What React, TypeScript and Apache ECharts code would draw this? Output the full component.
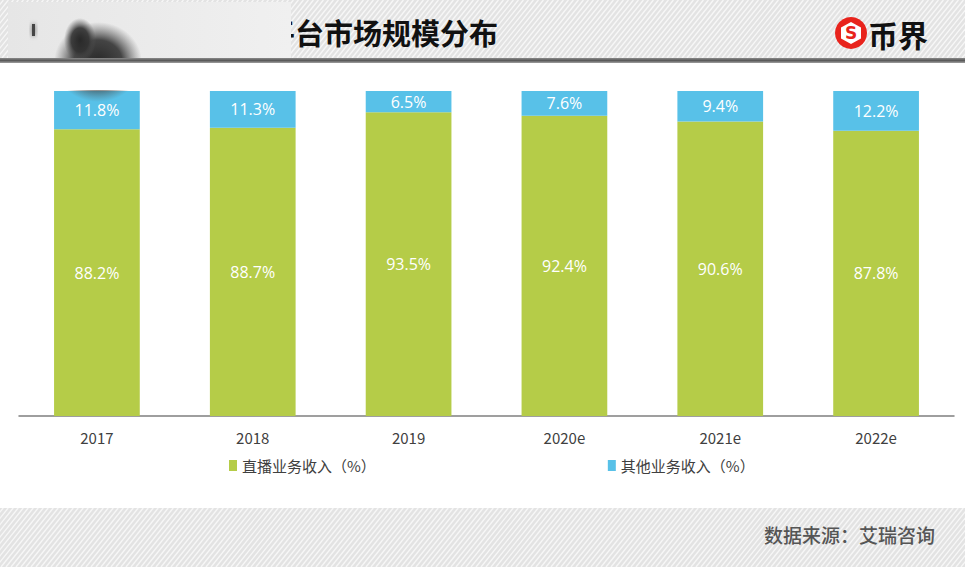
import React, { useEffect, useRef } from "react";
import * as echarts from "echarts";

const categories = ["2017", "2018", "2019", "2020e", "2021e", "2022e"];
const liveRevenue = [88.2, 88.7, 93.5, 92.4, 90.6, 87.8];
const otherRevenue = [11.8, 11.3, 6.5, 7.6, 9.4, 12.2];
const seriesNames = ["直播业务收入（%）", "其他业务收入（%）"];
const titleText = "平台市场规模分布";
const sourceText = "数据来源：艾瑞咨询";
const brandText = "币界";

const W = 965;
const H = 567;

function stripes(y0: number, y1: number): any[] {
  const h = y1 - y0;
  const out: any[] = [];
  for (let x = -h; x < W + 6; x += 5) {
    out.push({
      type: "line",
      silent: true,
      shape: { x1: x, y1: y1, x2: x + h * 0.8, y2: y0 },
      style: { stroke: "rgba(255,255,255,0.7)", lineWidth: 1.4 },
      z: 1,
    });
  }
  return out;
}

export default function App() {
  const ref = useRef<HTMLDivElement>(null);
  useEffect(() => {
    if (!ref.current) return;
    const chart = echarts.init(ref.current, null, { renderer: "svg" });
    const blobGrad = new echarts.graphic.RadialGradient(0.5, 0.5, 0.5, [
      { offset: 0, color: "rgba(40,40,40,1)" },
      { offset: 0.55, color: "rgba(50,50,50,0.9)" },
      { offset: 1, color: "rgba(90,90,90,0)" },
    ]);
    const graphics: any[] = [
      { type: "rect", silent: true, shape: { x: 0, y: 0, width: W, height: 58 }, style: { fill: "#e3e3e3" }, z: 0 },
      ...stripes(0, 58),
      { type: "rect", silent: true, shape: { x: 0, y: 508, width: W, height: 59 }, style: { fill: "#e3e3e3" }, z: 0 },
      ...stripes(508, 567),
      {
        type: "text",
        silent: true,
        left: 266,
        top: 17,
        style: { text: titleText, fontSize: 29, fontWeight: "bold", fill: "#111", fontFamily: "Noto Sans CJK SC" },
        z: 4,
      },
      {
        type: "rect",
        silent: true,
        shape: { x: 8, y: 2, width: 283, height: 56 },
        style: {
          fill: new echarts.graphic.LinearGradient(0, 0, 1, 0, [
            { offset: 0, color: "#e6e6e6" },
            { offset: 1, color: "#f0f0f0" },
          ]),
        },
        z: 5,
      },
      {
        type: "ellipse",
        silent: true,
        shape: { cx: 98, cy: 62, rx: 44, ry: 40 },
        style: { fill: blobGrad },
        z: 6,
      },
      {
        type: "ellipse",
        silent: true,
        shape: { cx: 80, cy: 40, rx: 16, ry: 22 },
        style: { fill: blobGrad },
        z: 6,
      },
      {
        type: "rect",
        silent: true,
        shape: { x: 32, y: 24, width: 3, height: 12 },
        style: { fill: "#444", shadowBlur: 4, shadowColor: "#666" },
        z: 6,
      },
      {
        type: "rect",
        silent: true,
        shape: { x: 0, y: 63, width: W, height: 27 },
        style: { fill: "#ffffff" },
        z: 8,
      },
      {
        type: "rect",
        silent: true,
        shape: { x: 0, y: 58, width: W, height: 5 },
        style: {
          fill: new echarts.graphic.LinearGradient(0, 0, 0, 1, [
            { offset: 0, color: "#8a8a8a" },
            { offset: 0.5, color: "#5a5a5a" },
            { offset: 1, color: "#a0a0a0" },
          ]),
        },
        z: 9,
      },
      { type: "circle", silent: true, shape: { cx: 851, cy: 33, r: 16 }, style: { fill: "#e8231c" }, z: 4 },
      {
        type: "polygon",
        silent: true,
        shape: { points: [[851, 22], [861, 27.5], [861, 38.5], [851, 44], [841, 38.5], [841, 27.5]] },
        style: { fill: "#fff" },
        z: 5,
      },
      {
        type: "text",
        silent: true,
        x: 851,
        y: 33,
        style: { text: "S", fontSize: 17, fontWeight: "bold", fill: "#e8231c", align: "center", verticalAlign: "middle", fontFamily: "DejaVu Sans" },
        z: 6,
      },
      {
        type: "text",
        silent: true,
        left: 868,
        top: 19,
        style: { text: brandText, fontSize: 30, fontWeight: "bold", fill: "#111", fontFamily: "Noto Sans CJK SC" },
        z: 4,
      },
      {
        type: "text",
        silent: true,
        right: 30,
        top: 525,
        style: { text: sourceText, fontSize: 19, fontWeight: 500, fill: "#555", fontFamily: "Noto Sans CJK SC" },
        z: 4,
      },
    ];

    const labelStyle = {
      show: true,
      position: "inside",
      color: "#fff",
      fontSize: 16,
      fontFamily: "Open Sans",
      formatter: (p: any) => p.value.toFixed(1) + "%",
    };

    chart.setOption({
      animation: false,
      backgroundColor: "#fff",
      graphic: graphics,
      grid: { left: 19, right: 11, top: 91, bottom: 151 },
      xAxis: {
        type: "category",
        data: categories,
        axisLine: { show: true, lineStyle: { color: "#7f7f7f", width: 1.5 } },
        axisTick: { show: false },
        axisLabel: { color: "#404040", fontSize: 15, margin: 14, fontFamily: "Noto Sans CJK SC" },
      },
      yAxis: { type: "value", min: 0, max: 100, show: false },
      legend: {
        left: 229,
        top: 458,
        padding: 0,
        itemWidth: 8,
        itemHeight: 11,
        itemGap: 232,
        icon: "rect",
        textStyle: { color: "#404040", fontSize: 15, fontFamily: "Noto Sans CJK SC" },
        data: seriesNames,
      },
      series: [
        {
          name: seriesNames[0],
          type: "bar",
          stack: "total",
          data: liveRevenue,
          barWidth: "55%",
          itemStyle: { color: "#b5cc48" },
          label: labelStyle,
        },
        {
          name: seriesNames[1],
          type: "bar",
          stack: "total",
          data: otherRevenue,
          barWidth: "55%",
          itemStyle: { color: "#58c1e8" },
          label: labelStyle,
        },
      ],
    });
    return () => chart.dispose();
  }, []);
  return <div ref={ref} style={{ width: W, height: H, position: "absolute", left: 0, top: 0 }} />;
}
